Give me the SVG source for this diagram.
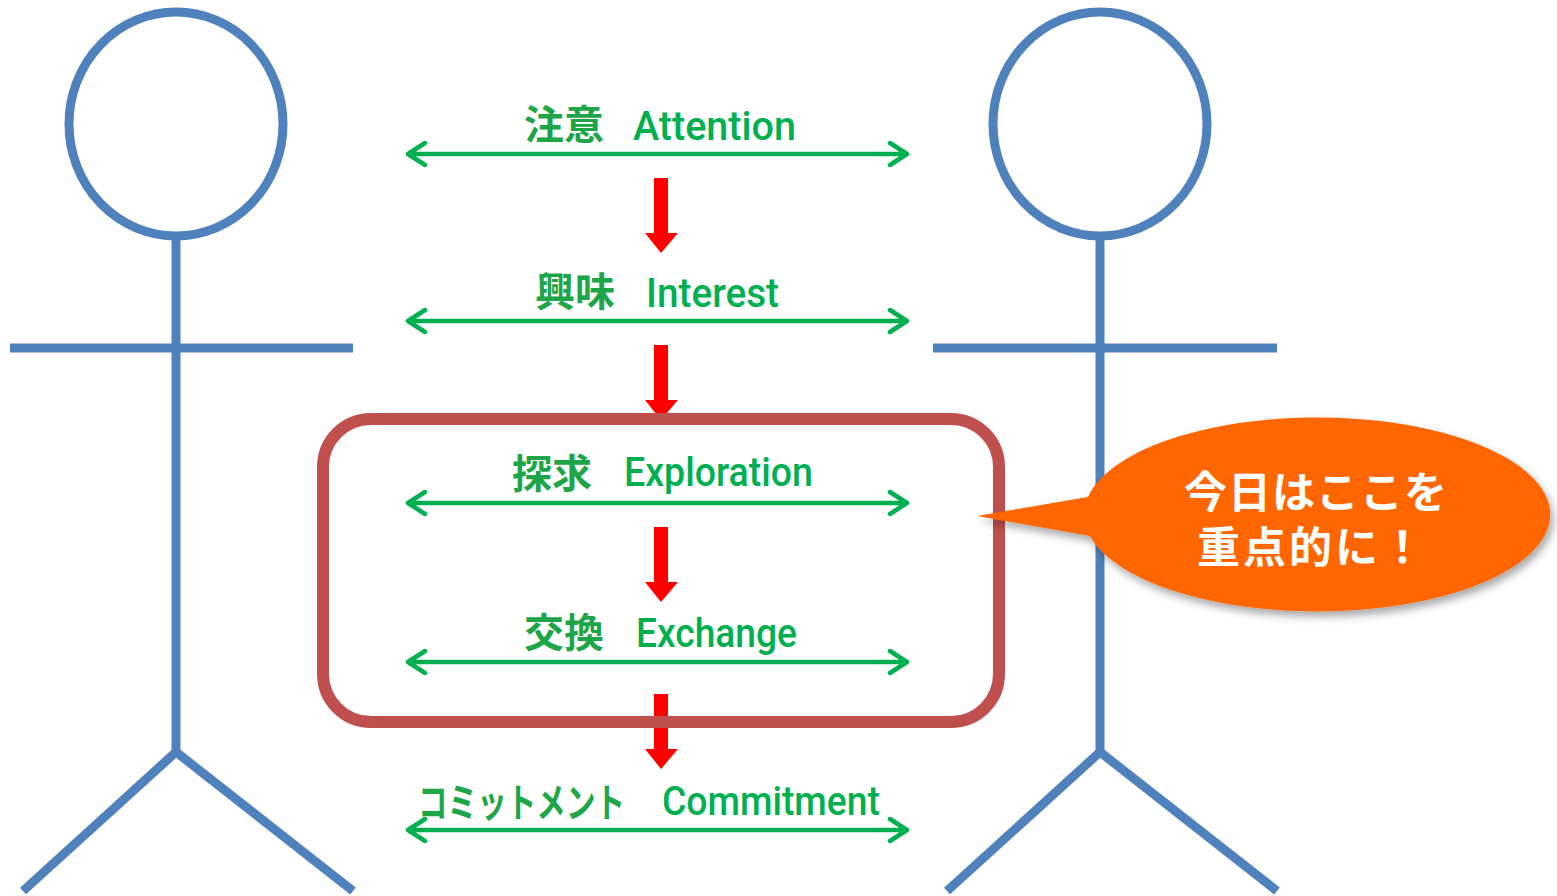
<svg xmlns="http://www.w3.org/2000/svg" width="1557" height="896" viewBox="0 0 1557 896">
<defs>
<style>
.fig{fill:none;stroke:#4F81BD;stroke-width:9}
.flow{stroke:#00B050;stroke-width:4.5;fill:none;stroke-linecap:round;stroke-linejoin:round}
.jp{font-family:"Noto Sans CJK JP","Noto Sans",sans-serif;font-size:40px;fill:#1DA548;font-weight:bold}
.en{font-family:"Roboto","Liberation Sans",sans-serif;font-size:41px;fill:#00B050;font-weight:500}
.red{fill:#FF0000}
.callt{font-family:"Noto Sans CJK JP","Noto Sans",sans-serif;font-size:43px;fill:#FFFFFF;font-weight:bold}
</style>
<filter id="sh" x="-10%" y="-10%" width="130%" height="140%">
<feDropShadow dx="3" dy="5" stdDeviation="4" flood-color="#000" flood-opacity="0.35"/>
</filter>
</defs>
<rect width="1557" height="896" fill="#FFFFFF"/>
<g id="person-left">
<ellipse class="fig" cx="176" cy="124" rx="107" ry="112"/>
<line class="fig" x1="176" y1="236" x2="176" y2="752"/>
<line class="fig" x1="10" y1="348" x2="353" y2="348"/>
<polyline class="fig" points="23,891 176,752 353,891"/>
</g>
<g id="person-right">
<ellipse class="fig" cx="1100" cy="124" rx="107" ry="112"/>
<line class="fig" x1="1100" y1="236" x2="1100" y2="752"/>
<line class="fig" x1="933" y1="348" x2="1277" y2="348"/>
<polyline class="fig" points="947,891 1100,752 1277,891"/>
</g>
<g id="connectors">
<g id="flow-attention">
<path class="flow" d="M408,154 H907 M425,143 L408,154 L425,165 M890,143 L907,154 L890,165"/>
</g>
<g id="flow-interest">
<path class="flow" d="M408,321 H907 M425,310 L408,321 L425,332 M890,310 L907,321 L890,332"/>
</g>
<g id="flow-exploration">
<path class="flow" d="M408,503 H907 M425,492 L408,503 L425,514 M890,492 L907,503 L890,514"/>
</g>
<g id="flow-exchange">
<path class="flow" d="M408,662 H907 M425,651 L408,662 L425,673 M890,651 L907,662 L890,673"/>
</g>
<g id="flow-commitment">
<path class="flow" d="M408,830 H907 M425,819 L408,830 L425,841 M890,819 L907,830 L890,841"/>
</g>
<polygon class="red" points="654,178 668,178 668,233 678,233 661,253 645,233 654,233"/>
<polygon class="red" points="654,345 668,345 668,400 678,400 661,420 645,400 654,400"/>
<polygon class="red" points="654,527 668,527 668,582 678,582 661,602 645,582 654,582"/>
<polygon class="red" points="654,694 668,694 668,749 678,749 661,769 645,749 654,749"/>
</g>
<g id="label-attention">
<text class="jp" x="524" y="139">注意</text>
<text class="en" x="633" y="140" textLength="163" lengthAdjust="spacingAndGlyphs">Attention</text>
</g>
<g id="label-interest">
<text class="jp" x="535" y="306">興味</text>
<text class="en" x="646" y="307" textLength="133" lengthAdjust="spacingAndGlyphs">Interest</text>
</g>
<g id="label-exploration">
<text class="jp" x="512" y="488">探求</text>
<text class="en" x="624" y="486" textLength="189" lengthAdjust="spacingAndGlyphs">Exploration</text>
</g>
<g id="label-exchange">
<text class="jp" x="524" y="647">交換</text>
<text class="en" x="636" y="647" textLength="161" lengthAdjust="spacingAndGlyphs">Exchange</text>
</g>
<g id="label-commitment">
<text class="jp" transform="translate(418,817) scale(0.74,1)" x="0" y="0" font-size="43">コミットメント</text>
<text class="en" x="662" y="815" textLength="218" lengthAdjust="spacingAndGlyphs">Commitment</text>
</g>
<g id="focus-box">
<rect x="323" y="419" width="676" height="303" rx="48" ry="48" fill="none" stroke="#C0504D" stroke-width="12"/>
</g>
<g id="callout">
<path d="M977,516 L1088,497 A233,97 0 1 1 1090,536 Z" fill="#FF6600" filter="url(#sh)"/>
<text class="callt" x="1316" y="508" text-anchor="middle" letter-spacing="1">今日はここを</text>
<text class="callt" x="1312" y="563" text-anchor="middle" letter-spacing="3">重点的に！</text>
</g>
</svg>
